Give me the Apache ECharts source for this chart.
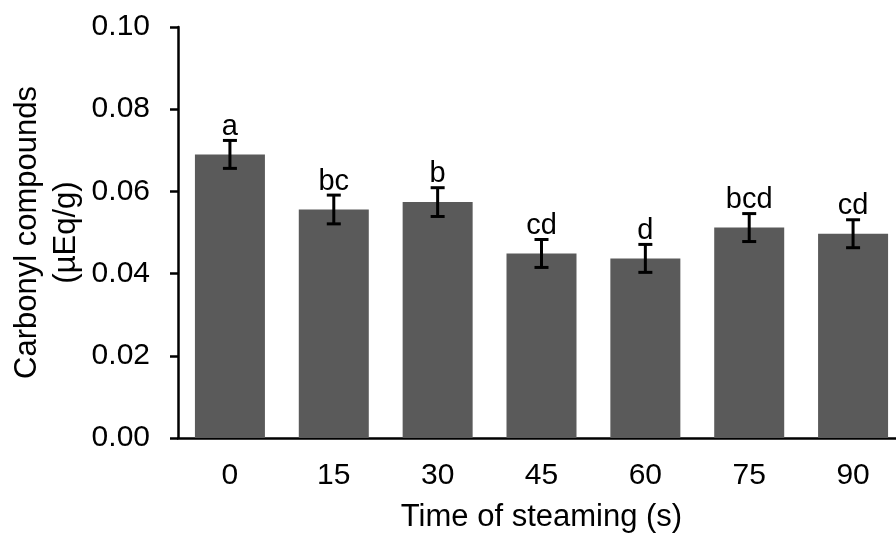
<!DOCTYPE html>
<html><head><meta charset="utf-8">
<script src="https://cdn.jsdelivr.net/npm/echarts@6/dist/echarts.min.js"></script>
<style>html,body{margin:0;padding:0;background:#fff}#c{width:896px;height:539px}</style>
</head><body><div id="c"></div>
<script>
const categories = ['0','15','30','45','60','75','90'];
const values = [0.0690, 0.0556, 0.0574, 0.0449, 0.0437, 0.0512, 0.0497];
const errors = [0.0034, 0.0035, 0.0035, 0.0034, 0.0034, 0.0034, 0.0034];
const letters = ['a','bc','b','cd','d','bcd','cd'];
const yTicks = [0, 0.02, 0.04, 0.06, 0.08, 0.10];

const font = '"Liberation Sans", Arial, sans-serif';
const chart = echarts.init(document.getElementById('c'));
const errData = categories.map((c,i)=>[i, values[i]-errors[i], values[i]+errors[i], letters[i]]);

chart.setOption({
  animation:false,
  grid:{left:178, right:-9, top:27, bottom:101, containLabel:false, outerBoundsMode:'none'},
  xAxis:{
    type:'category', data:categories,
    name:'Time of steaming (s)', nameLocation:'middle', nameGap:64,
    nameTextStyle:{fontFamily:font, fontSize:31, color:'#000'},
    axisLine:{lineStyle:{color:'#000', width:2.5}},
    axisTick:{alignWithLabel:true, length:8, lineStyle:{color:'#000', width:2.5}},
    axisLabel:{fontFamily:font, fontSize:30, color:'#000', margin:23},
    splitLine:{show:false}
  },
  yAxis:{
    type:'value', min:0, max:0.10, interval:0.02,
    name:'Carbonyl compounds\n(µEq/g)', nameLocation:'middle', nameGap:92, nameRotate:90,
    nameMoveOverlap:false,
    nameTextStyle:{fontFamily:font, fontSize:31, color:'#000', lineHeight:39},
    axisLine:{show:true, lineStyle:{color:'#000', width:2.5}},
    axisTick:{show:true, length:8, lineStyle:{color:'#000', width:2.5}},
    axisLabel:{fontFamily:font, fontSize:30, color:'#000', margin:28,
      formatter:v=>{const t=yTicks.find(x=>Math.abs(x-v)<1e-9);return (t!==undefined?t:v).toFixed(2);}},
    splitLine:{show:false}
  },
  series:[
    {type:'bar', data:values, barWidth:70, itemStyle:{color:'#5a5a5a'}},
    {type:'custom', data:errData, z:10,
      renderItem:(params, api)=>{
        const x = api.value(0);
        const lo = api.coord([x, api.value(1)]);
        const hi = api.coord([x, api.value(2)]);
        const w = 7;
        const st = {stroke:'#000', lineWidth:3};
        return {type:'group', children:[
          {type:'line', shape:{x1:lo[0],y1:lo[1],x2:hi[0],y2:hi[1]}, style:st},
          {type:'line', shape:{x1:lo[0]-w,y1:lo[1],x2:lo[0]+w,y2:lo[1]}, style:st},
          {type:'line', shape:{x1:hi[0]-w,y1:hi[1],x2:hi[0]+w,y2:hi[1]}, style:st},
          {type:'text', x:hi[0], y:hi[1]+1, style:{text:letters[params.dataIndex], fill:'#000',
            font:'29px '+font, textAlign:'center', textVerticalAlign:'bottom'}}
        ]};
      }}
  ]
});
</script></body></html>
